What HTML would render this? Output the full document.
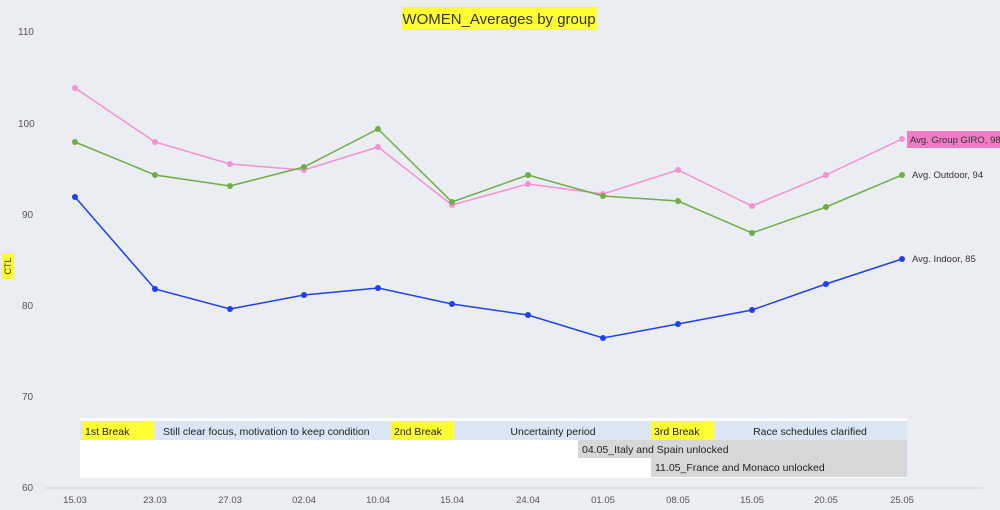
<!DOCTYPE html>
<html><head><style>
body{margin:0;background:#eaedf2;}
svg{display:block;font-family:"Liberation Sans",sans-serif;}
</style></head><body>
<svg width="1000" height="510" viewBox="0 0 1000 510">
<rect width="1000" height="510" fill="#eaedf2"/>
<rect x="402" y="7" width="195" height="23" fill="#ffff33"/>
<text x="499" y="24" font-size="15" text-anchor="middle" fill="#333">WOMEN_Averages by group</text>
<g font-size="10" fill="#555">
<text x="18" y="35">110</text><text x="18" y="127">100</text><text x="22" y="218">90</text><text x="22" y="309">80</text><text x="22" y="400">70</text><text x="22" y="491">60</text>
</g>
<rect x="2" y="253" width="12" height="26" fill="#ffff33"/>
<text x="11" y="266" font-size="9" fill="#333" transform="rotate(-90 11 266)" text-anchor="middle">CTL</text>
<line x1="45" y1="488" x2="983" y2="488" stroke="#d0d4da"/>
<g font-size="9.5" fill="#555" text-anchor="middle">
<text x="75" y="503">15.03</text><text x="155" y="503">23.03</text><text x="230" y="503">27.03</text><text x="304" y="503">02.04</text><text x="378" y="503">10.04</text><text x="452" y="503">15.04</text><text x="528" y="503">24.04</text><text x="603" y="503">01.05</text><text x="678" y="503">08.05</text><text x="752" y="503">15.05</text><text x="826" y="503">20.05</text><text x="902" y="503">25.05</text>
</g>
<rect x="80" y="418" width="827" height="60" fill="#fff"/>
<rect x="80" y="421" width="827" height="19" fill="#dae6f4"/>
<rect x="82" y="421" width="72" height="19" fill="#ffff33"/>
<rect x="391" y="421" width="63" height="19" fill="#ffff33"/>
<rect x="651" y="421" width="63" height="19" fill="#ffff33"/>
<rect x="578" y="440" width="329" height="18" fill="#d7d7d7"/>
<rect x="651" y="458" width="256" height="19" fill="#d7d7d7"/>
<g font-size="10.5" fill="#222">
<text x="85" y="435">1st Break</text>
<text x="163" y="435">Still clear focus, motivation to keep condition</text>
<text x="394" y="435">2nd Break</text>
<text x="553" y="435" text-anchor="middle">Uncertainty period</text>
<text x="654" y="435">3rd Break</text>
<text x="810" y="435" text-anchor="middle">Race schedules clarified</text>
<text x="582" y="453">04.05_Italy and Spain unlocked</text>
<text x="655" y="471">11.05_France and Monaco unlocked</text>
</g>
<g fill="none" stroke-width="1.5">
<polyline stroke="#f78fd3" points="75,88 155,142 230,164 304,170 378,147 452,205 528,184 603,194 678,170 752,206 826,175 902,139"/>
<polyline stroke="#70ad47" points="75,142 155,175 230,186 304,167 378,129 452,202 528,175 603,196 678,201 752,233 826,207 902,175"/>
<polyline stroke="#1f3fff" points="75,197 155,289 230,309 304,295 378,288 452,304 528,315 603,338 678,324 752,310 826,284 902,259"/>
</g>
<g fill="#f78fd3"><circle cx="75" cy="88" r="3"/><circle cx="155" cy="142" r="3"/><circle cx="230" cy="164" r="3"/><circle cx="304" cy="170" r="3"/><circle cx="378" cy="147" r="3"/><circle cx="452" cy="205" r="3"/><circle cx="528" cy="184" r="3"/><circle cx="603" cy="194" r="3"/><circle cx="678" cy="170" r="3"/><circle cx="752" cy="206" r="3"/><circle cx="826" cy="175" r="3"/><circle cx="902" cy="139" r="3"/></g>
<g fill="#70ad47"><circle cx="75" cy="142" r="3"/><circle cx="155" cy="175" r="3"/><circle cx="230" cy="186" r="3"/><circle cx="304" cy="167" r="3"/><circle cx="378" cy="129" r="3"/><circle cx="452" cy="202" r="3"/><circle cx="528" cy="175" r="3"/><circle cx="603" cy="196" r="3"/><circle cx="678" cy="201" r="3"/><circle cx="752" cy="233" r="3"/><circle cx="826" cy="207" r="3"/><circle cx="902" cy="175" r="3"/></g>
<g fill="#1f3fff"><circle cx="75" cy="197" r="3"/><circle cx="155" cy="289" r="3"/><circle cx="230" cy="309" r="3"/><circle cx="304" cy="295" r="3"/><circle cx="378" cy="288" r="3"/><circle cx="452" cy="304" r="3"/><circle cx="528" cy="315" r="3"/><circle cx="603" cy="338" r="3"/><circle cx="678" cy="324" r="3"/><circle cx="752" cy="310" r="3"/><circle cx="826" cy="284" r="3"/><circle cx="902" cy="259" r="3"/></g>
<rect x="907" y="131" width="93" height="17" fill="#f27bc8"/>
<g font-size="9.5" fill="#333">
<text x="910" y="143">Avg. Group GIRO, 98</text>
<text x="912" y="178">Avg. Outdoor, 94</text>
<text x="912" y="262">Avg. Indoor, 85</text>
</g>
</svg>
</body></html>
